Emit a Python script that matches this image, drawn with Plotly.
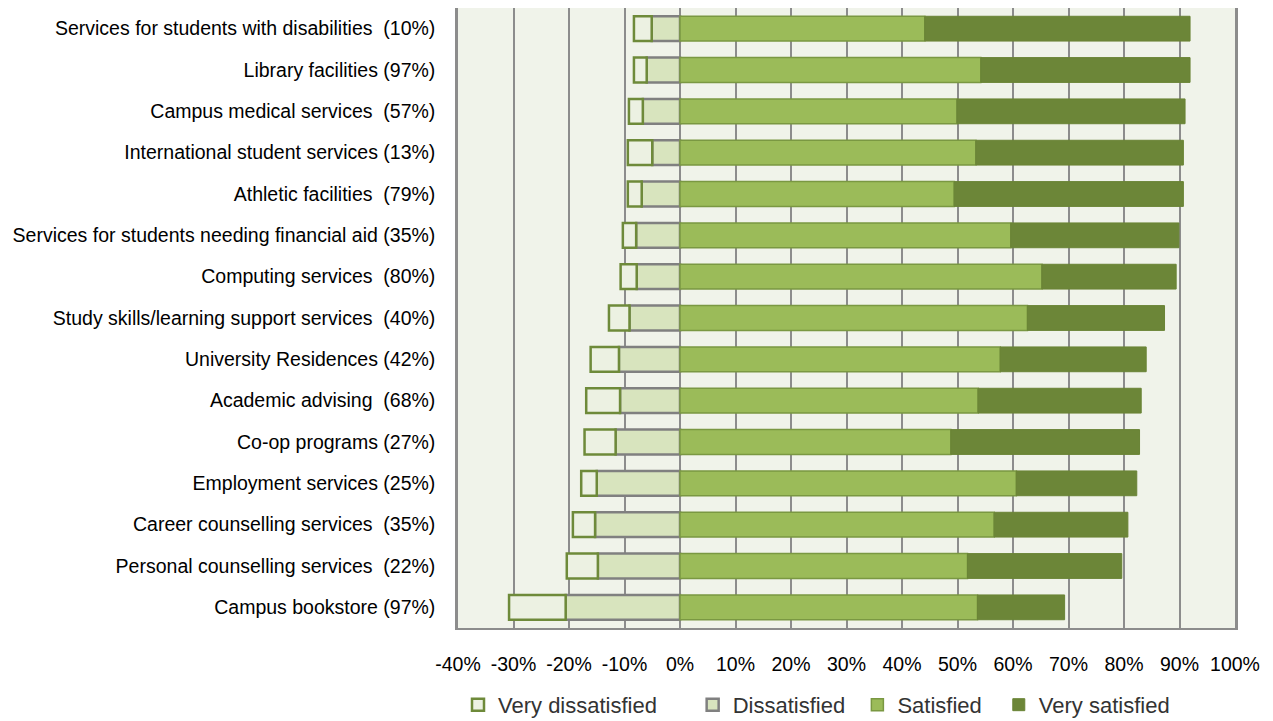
import plotly.graph_objects as go

# Service names with the share of respondents who used each service
services = [
    "Services for students with disabilities\u00a0 (10%)",
    "Library facilities (97%)",
    "Campus medical services\u00a0 (57%)",
    "International student services (13%)",
    "Athletic facilities\u00a0 (79%)",
    "Services for students needing financial aid (35%)",
    "Computing services\u00a0 (80%)",
    "Study skills/learning support services\u00a0 (40%)",
    "University Residences (42%)",
    "Academic advising\u00a0 (68%)",
    "Co-op programs (27%)",
    "Employment services (25%)",
    "Career counselling services\u00a0 (35%)",
    "Personal counselling services\u00a0 (22%)",
    "Campus bookstore (97%)",
]

# Percent of users at each satisfaction level
very_dissatisfied = [3.2, 2.3, 2.5, 4.4, 2.5, 2.4, 2.9, 3.7, 5.1, 6.1, 5.6, 2.8, 4.0, 5.6, 10.2]
dissatisfied = [5.1, 6.0, 6.7, 5.0, 6.9, 7.9, 7.8, 9.1, 11.0, 10.8, 11.6, 15.0, 15.3, 14.8, 20.6]
satisfied = [44.1, 54.2, 49.9, 53.3, 49.4, 59.6, 65.2, 62.6, 57.7, 53.7, 48.8, 60.6, 56.6, 51.8, 53.6]
very_satisfied = [47.8, 37.7, 41.1, 37.4, 41.3, 30.3, 24.2, 24.7, 26.3, 29.4, 34.0, 21.7, 24.1, 27.8, 15.7]

tick_vals = list(range(-40, 101, 10))
tick_text = [f"{v}%" for v in tick_vals]

fig = go.Figure()

# Negative side: dissatisfied sits next to zero, very dissatisfied stacks beyond it
fig.add_trace(go.Bar(
    y=services, x=[-v for v in dissatisfied], orientation="h", name="Dissatisfied",
    marker=dict(color="#D8E4BE", line=dict(color="#808080", width=2.5)),
    legend="legend2", customdata=dissatisfied,
    hovertemplate="%{y}<br>Dissatisfied: %{customdata}%<extra></extra>",
))
fig.add_trace(go.Bar(
    y=services, x=[-v for v in very_dissatisfied], orientation="h", name="Very dissatisfied",
    marker=dict(color="#ECF1E2", line=dict(color="#6E8A3A", width=2.5)),
    legend="legend", customdata=very_dissatisfied,
    hovertemplate="%{y}<br>Very dissatisfied: %{customdata}%<extra></extra>",
))
fig.add_trace(go.Bar(
    y=services, x=satisfied, orientation="h", name="Satisfied",
    marker=dict(color="#9BBB59", line=dict(color="#7A9842", width=1.5)),
    legend="legend3",
    hovertemplate="%{y}<br>Satisfied: %{x}%<extra></extra>",
))
fig.add_trace(go.Bar(
    y=services, x=very_satisfied, orientation="h", name="Very satisfied",
    marker=dict(color="#6C8638", line=dict(color="#6A8436", width=1)),
    legend="legend4",
    hovertemplate="%{y}<br>Very satisfied: %{x}%<extra></extra>",
))

legend_font = dict(family="Liberation Sans, Arial, sans-serif", size=22, color="#333333")


def legend_at(xpos):
    return dict(x=xpos, y=-0.124, xanchor="left", yanchor="middle",
                orientation="h", font=legend_font, bgcolor="rgba(0,0,0,0)",
                itemclick=False, itemdoubleclick=False)


fig.update_layout(
    width=1273, height=721,
    margin=dict(l=458, r=38, t=8, b=93, autoexpand=False),
    paper_bgcolor="white",
    plot_bgcolor="#F0F3EA",
    barmode="relative",
    bargap=0.4,
    showlegend=True,
    legend=legend_at(0.0),
    legend2=legend_at(0.302),
    legend3=legend_at(0.514),
    legend4=legend_at(0.696),
    font=dict(family="Liberation Sans, Arial, sans-serif", size=19.5, color="#000000"),
)

fig.update_xaxes(
    range=[-40, 100], tickvals=tick_vals, ticktext=tick_text, tickangle=0,
    showgrid=True, gridcolor="#8C8C8C", gridwidth=2,
    zeroline=True, zerolinecolor="#8C8C8C", zerolinewidth=2,
    showline=True, linecolor="#8C8C8C", linewidth=2, mirror=False,
    ticks="", ticklabelstandoff=18, automargin=False, fixedrange=True,
)
fig.update_yaxes(
    autorange="reversed", showgrid=False, zeroline=False,
    showline=True, linecolor="#8C8C8C", linewidth=2.5, mirror=True,
    ticks="", ticklabelstandoff=16, automargin=False, fixedrange=True,
)

fig.write_html("out.html")
